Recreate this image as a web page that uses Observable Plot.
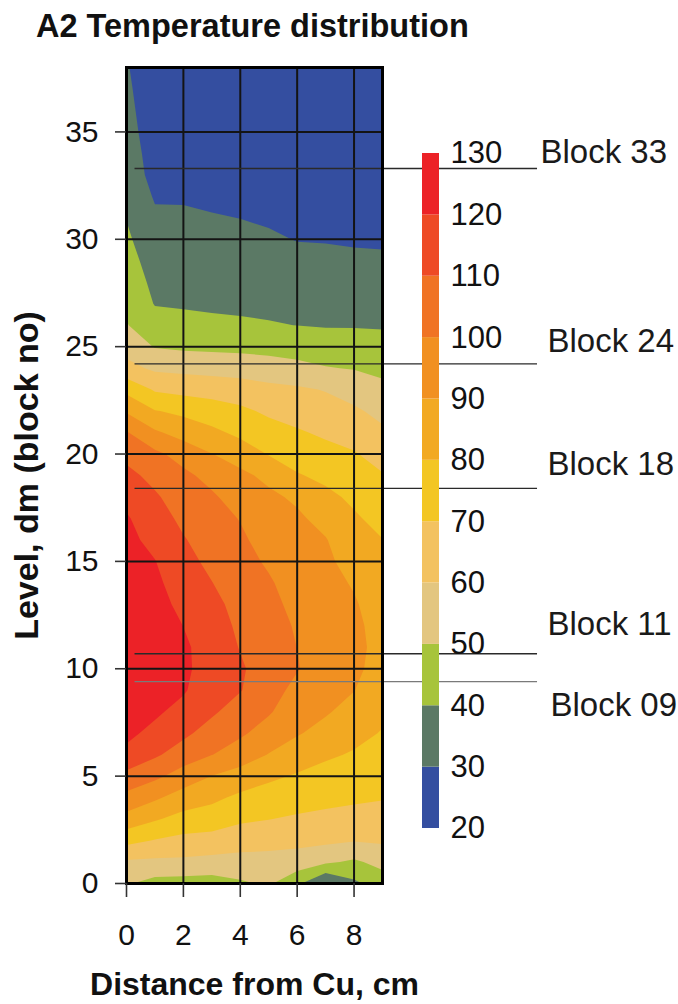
<!DOCTYPE html>
<html>
<head>
<meta charset="utf-8">
<script src="https://cdn.jsdelivr.net/npm/d3@7"></script>
<script src="https://cdn.jsdelivr.net/npm/@observablehq/plot@0.6"></script>
<style>
  html, body { margin: 0; padding: 0; background: #fff; }
  #chart { position: relative; width: 678px; height: 1004px; overflow: hidden;
           font-family: "Liberation Sans", Arial, sans-serif; color: #111; }
  #title { position: absolute; left: 36px; top: 10px; font-size: 32.5px; line-height: 32px;
           font-weight: bold; white-space: nowrap; }
  #chart svg { position: absolute; }
</style>
</head>
<body>
<div id="chart"><div id="title">A2 Temperature distribution</div></div>
<script>
// Sample columns: distance from the Cu plate (cm)
const distances = [0, 1, 2, 3, 4, 5, 6, 7, 8, 9];
// Sample rows: level (dm), top row first
const levels = [38, 37, 36, 35, 34, 33, 32, 31, 30, 29, 28, 27, 26, 25, 24, 23, 22, 21, 20,
                19, 18, 17, 16, 15, 14, 13, 12, 11, 10, 9, 8, 7, 6, 5, 4, 3, 2, 1, 0];
// Temperature (°C) at each level (row) and distance (column)
const temperature = [
  [31.0, 21.5, 22.5, 22.5, 23.0, 23.5, 24.0, 24.5, 25.0, 25.0],
  [32.2, 22.0, 23.0, 23.0, 23.5, 24.0, 24.5, 25.0, 25.0, 25.0],
  [33.5, 22.5, 23.5, 23.5, 24.0, 24.5, 25.0, 25.5, 25.5, 25.5],
  [34.7, 23.5, 24.5, 24.0, 24.5, 25.0, 25.5, 26.0, 26.0, 26.0],
  [35.9, 25.0, 25.5, 25.0, 25.5, 25.5, 26.0, 26.5, 26.5, 26.5],
  [37.2, 26.0, 27.0, 26.5, 26.5, 26.5, 26.5, 27.0, 27.0, 27.0],
  [38.4, 29.0, 29.2, 28.5, 28.0, 27.5, 27.5, 27.5, 27.5, 27.5],
  [39.7, 31.7, 31.2, 30.5, 29.9, 29.0, 28.5, 28.5, 28.0, 28.0],
  [41.6, 33.7, 33.1, 32.5, 32.0, 31.1, 29.7, 29.5, 29.0, 28.8],
  [43.8, 35.6, 35.1, 34.5, 34.1, 33.4, 32.3, 32.0, 31.6, 31.3],
  [45.9, 37.6, 37.1, 36.6, 36.2, 35.7, 34.8, 34.4, 34.2, 33.9],
  [48.1, 39.5, 39.0, 38.6, 38.3, 38.0, 37.3, 36.9, 36.8, 36.6],
  [50.5, 44.1, 42.8, 41.8, 41.3, 40.6, 39.9, 39.4, 39.4, 39.2],
  [55.8, 49.5, 48.3, 47.9, 47.5, 46.7, 45.7, 44.4, 44.1, 43.2],
  [63.2, 58.2, 57.4, 56.5, 55.8, 54.5, 52.8, 50.5, 49.5, 47.7],
  [77.4, 68.9, 67.1, 66.2, 64.7, 62.6, 61.4, 59.5, 55.8, 52.4],
  [88.9, 80.5, 77.8, 74.6, 72.0, 68.3, 66.2, 64.1, 61.6, 57.1],
  [100.7, 91.4, 86.2, 82.3, 77.7, 73.9, 71.0, 68.5, 66.3, 61.8],
  [107.3, 102.1, 96.3, 90.2, 85.8, 79.4, 75.7, 73.0, 70.7, 66.4],
  [112.7, 107.2, 102.1, 97.1, 92.1, 87.8, 80.8, 77.7, 74.4, 70.6],
  [117.3, 111.3, 105.0, 101.3, 95.9, 91.8, 88.5, 82.4, 78.1, 73.8],
  [121.0, 114.3, 107.9, 103.5, 99.6, 94.1, 91.5, 87.1, 81.3, 76.9],
  [122.5, 117.3, 110.7, 105.7, 101.5, 96.5, 93.0, 90.5, 83.9, 80.2],
  [124.0, 120.3, 113.0, 107.8, 103.1, 98.8, 94.5, 91.8, 86.5, 82.0],
  [125.0, 122.0, 115.2, 110.2, 104.8, 101.0, 96.0, 93.2, 89.1, 83.5],
  [126.0, 123.5, 117.5, 113.0, 106.4, 102.5, 97.5, 94.5, 91.0, 85.0],
  [126.5, 124.5, 119.9, 115.0, 108.0, 104.0, 99.0, 95.5, 92.0, 86.5],
  [126.5, 125.0, 121.5, 116.0, 109.5, 105.0, 99.9, 96.0, 92.5, 87.0],
  [126.0, 124.5, 122.0, 115.5, 111.3, 105.0, 100.5, 95.8, 92.0, 86.3],
  [125.0, 123.5, 121.0, 114.0, 110.5, 103.5, 97.6, 94.0, 90.2, 84.5],
  [124.0, 121.5, 117.0, 111.5, 105.4, 101.0, 94.2, 91.0, 86.5, 82.0],
  [122.0, 117.6, 112.1, 105.9, 101.5, 95.9, 90.8, 86.8, 82.8, 79.4],
  [117.8, 111.5, 105.1, 100.2, 95.0, 89.6, 85.2, 81.4, 79.1, 76.5],
  [107.0, 102.1, 95.7, 89.8, 86.2, 81.9, 79.0, 76.8, 75.3, 73.5],
  [97.0, 91.6, 85.6, 82.3, 77.9, 75.7, 74.0, 72.6, 71.5, 70.6],
  [86.3, 81.0, 76.7, 75.0, 71.8, 70.2, 68.8, 67.7, 66.8, 66.2],
  [72.9, 69.5, 67.0, 66.3, 63.6, 62.9, 62.5, 62.0, 60.5, 61.4],
  [58.6, 58.0, 58.0, 57.0, 57.0, 57.0, 55.7, 51.5, 48.5, 53.0],
  [51.0, 46.5, 46.0, 45.5, 48.5, 51.5, 42.0, 29.0, 38.0, 45.0]
];
// Temperature classes (°C) and their colours
const bandEdges = [20, 30, 40, 50, 60, 70, 80, 90, 100, 110, 120, 130];
const bandColors = ["#344ea0", "#5b7965", "#a7c43b", "#e3c680", "#f3c260", "#f3c623",
                    "#f2a922", "#f19021", "#f07324", "#ee4a25", "#ec2227"];
const xTicks = [0, 2, 4, 6, 8];
const yTicks = [0, 5, 10, 15, 20, 25, 30, 35];
// Thermocouple blocks and their levels (dm)
const blockNames = ["Block 33", "Block 24", "Block 18", "Block 11", "Block 09"];
const blockLevels = [33.3, 24.2, 18.4, 10.7, 9.4];

const font = "'Liberation Sans', Arial, sans-serif";
const bandStarts = bandEdges.slice(0, -1);
const colorScale = {type: "ordinal", domain: bandStarts, range: bandColors};

// Pixel offsets of the block labels relative to their lines
const labelDx = [158, 165, 165, 165, 168];
const labelDy = [-16, -22, -24, -29, 24];
const lineColors = ["#2a2a2a", "#2a2a2a", "#2a2a2a", "#2a2a2a", "#7a7a7a"];

const chart = Plot.plot({
  width: 678,
  height: 954,
  marginTop: 17,
  marginBottom: 121,
  marginLeft: 126,
  marginRight: 296,
  x: {domain: [distances[0], distances[distances.length - 1]]},
  y: {domain: [levels[levels.length - 1], levels[0]]},
  color: colorScale,
  style: {fontFamily: font, color: "#111", background: "transparent", overflow: "visible"},
  marks: [
    // filled temperature bands; samples sit at cell centres, so the grid
    // extends half a step beyond the frame and is clipped to it
    Plot.contour(temperature.flat(), {
      width: distances.length,
      height: levels.length,
      x1: distances[0] - 0.5,
      x2: distances[distances.length - 1] + 0.5,
      y1: levels[0] + 0.5,
      y2: levels[levels.length - 1] - 0.5,
      fill: Plot.identity,
      thresholds: bandStarts,
      stroke: "none",
      clip: true
    }),
    Plot.ruleX(xTicks, {stroke: "#141414", strokeWidth: 2}),
    Plot.ruleY(yTicks, {stroke: "#141414", strokeWidth: 2}),
    ...blockLevels.map((level, i) =>
      Plot.ruleY([level], {x1: 0.3, x2: 14.45, stroke: lineColors[i], strokeWidth: 1.4})
    ),
    Plot.frame({stroke: "#000", strokeWidth: 3}),
    Plot.axisX({ticks: xTicks, tickSize: 14, tickPadding: 26, fontSize: 30,
                stroke: "#333", strokeWidth: 1.6, fill: "#111", label: null}),
    Plot.axisY({ticks: yTicks, anchor: "left", tickSize: 11, tickPadding: 17, fontSize: 30,
                stroke: "#333", strokeWidth: 1.6, fill: "#111", label: null}),
    Plot.text(["Distance from Cu, cm"], {
      frameAnchor: "bottom", dy: 101, fontSize: 32, fontWeight: "bold",
      textAnchor: "middle", lineAnchor: "middle", fill: "#111"
    }),
    Plot.text(["Level, dm (block no)"], {
      frameAnchor: "left", dx: -99, rotate: -90, fontSize: 34, fontWeight: "bold",
      textAnchor: "middle", lineAnchor: "middle", fill: "#111"
    }),
    ...blockNames.map((name, i) =>
      Plot.text([blockLevels[i]], {
        y: (d) => d, text: () => name, frameAnchor: "right",
        dx: labelDx[i], dy: labelDy[i], textAnchor: "start", lineAnchor: "middle",
        fontSize: 33, fill: "#1a1a1a"
      })
    )
  ]
});
chart.style.left = "0px";
chart.style.top = "50px";

// Vertical colour key
const bands = bandStarts.map((lo, i) => ({lo, hi: bandEdges[i + 1]}));
const key = Plot.plot({
  width: 130,
  height: 900,
  marginTop: 153,
  marginBottom: 72,
  marginLeft: 22,
  marginRight: 91,
  x: {domain: [0, 1], axis: null},
  y: {domain: [bandEdges[0], bandEdges[bandEdges.length - 1]]},
  color: colorScale,
  style: {fontFamily: font, color: "#111", background: "transparent", overflow: "visible"},
  marks: [
    Plot.rect(bands, {x1: 0, x2: 1, y1: "lo", y2: "hi", fill: "lo"}),
    Plot.axisY({ticks: bandEdges, anchor: "right", tickSize: 0, tickPadding: 11,
                fontSize: 31, fill: "#111", label: null})
  ]
});
key.style.left = "400px";
key.style.top = "0px";

const root = document.getElementById("chart");
root.appendChild(chart);
root.appendChild(key);
</script>
</body>
</html>
